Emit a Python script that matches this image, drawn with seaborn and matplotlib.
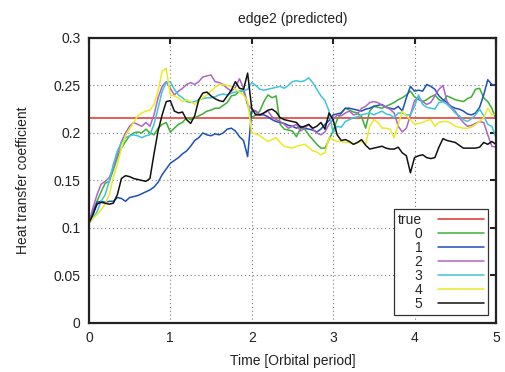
import numpy as np
import pandas as pd
import matplotlib
matplotlib.use("Agg")
import matplotlib.pyplot as plt
from matplotlib.ticker import FuncFormatter, MultipleLocator
import seaborn as sns

# sample times in orbital periods (step 0.05)
time = np.round(np.arange(0, 101) * 0.05, 2)

true_value = 0.216

run0 = [0.105, 0.114, 0.128, 0.138, 0.147, 0.149, 0.161, 0.174, 0.184, 0.191,
        0.197, 0.200, 0.201, 0.200, 0.204, 0.200, 0.198, 0.205, 0.209, 0.211,
        0.201, 0.205, 0.209, 0.211, 0.216, 0.214, 0.216, 0.218, 0.220, 0.223,
        0.224, 0.226, 0.226, 0.229, 0.232, 0.239, 0.240, 0.244, 0.244, 0.230,
        0.216, 0.219, 0.223, 0.233, 0.240, 0.237, 0.239, 0.209, 0.204, 0.203,
        0.202, 0.196, 0.205, 0.204, 0.198, 0.193, 0.188, 0.184, 0.184, 0.193,
        0.202, 0.214, 0.221, 0.226, 0.224, 0.222, 0.221, 0.217, 0.205, 0.223,
        0.228, 0.227, 0.226, 0.228, 0.230, 0.232, 0.235, 0.237, 0.240, 0.244,
        0.238, 0.235, 0.233, 0.235, 0.238, 0.240, 0.235, 0.233, 0.239, 0.237,
        0.235, 0.234, 0.233, 0.236, 0.238, 0.246, 0.247, 0.237, 0.233, 0.226,
        0.215]

run1 = [0.105, 0.118, 0.127, 0.128, 0.127, 0.128, 0.128, 0.132, 0.131, 0.128,
        0.132, 0.133, 0.134, 0.136, 0.138, 0.140, 0.143, 0.148, 0.156, 0.162,
        0.168, 0.171, 0.174, 0.178, 0.181, 0.186, 0.192, 0.195, 0.200, 0.198,
        0.197, 0.199, 0.198, 0.200, 0.204, 0.205, 0.202, 0.196, 0.192, 0.175,
        0.223, 0.223, 0.219, 0.219, 0.217, 0.214, 0.212, 0.211, 0.210, 0.208,
        0.207, 0.205, 0.207, 0.205, 0.204, 0.203, 0.201, 0.204, 0.209, 0.213,
        0.219, 0.220, 0.221, 0.226, 0.226, 0.225, 0.224, 0.223, 0.225, 0.226,
        0.228, 0.229, 0.230, 0.227, 0.226, 0.225, 0.228, 0.223, 0.237, 0.249,
        0.244, 0.245, 0.244, 0.251, 0.249, 0.246, 0.239, 0.235, 0.232, 0.228,
        0.226, 0.225, 0.223, 0.220, 0.219, 0.221, 0.227, 0.240, 0.256, 0.251,
        0.250]

run2 = [0.105, 0.121, 0.135, 0.146, 0.149, 0.153, 0.163, 0.177, 0.191, 0.200,
        0.207, 0.211, 0.209, 0.207, 0.211, 0.207, 0.219, 0.237, 0.249, 0.254,
        0.247, 0.240, 0.244, 0.247, 0.251, 0.253, 0.251, 0.254, 0.259, 0.260,
        0.261, 0.254, 0.253, 0.251, 0.247, 0.244, 0.248, 0.257, 0.247, 0.230,
        0.225, 0.223, 0.219, 0.221, 0.223, 0.217, 0.214, 0.212, 0.209, 0.205,
        0.207, 0.209, 0.202, 0.205, 0.209, 0.204, 0.200, 0.198, 0.201, 0.209,
        0.214, 0.219, 0.218, 0.221, 0.223, 0.219, 0.220, 0.226, 0.228, 0.232,
        0.233, 0.232, 0.229, 0.227, 0.225, 0.221, 0.207, 0.201, 0.205, 0.219,
        0.234, 0.237, 0.233, 0.230, 0.232, 0.239, 0.246, 0.250, 0.233, 0.227,
        0.223, 0.216, 0.211, 0.207, 0.208, 0.210, 0.212, 0.211, 0.198, 0.186,
        0.185]

run3 = [0.105, 0.110, 0.117, 0.128, 0.135, 0.149, 0.167, 0.181, 0.190, 0.195,
        0.197, 0.198, 0.197, 0.195, 0.197, 0.198, 0.209, 0.226, 0.244, 0.253,
        0.254, 0.246, 0.240, 0.237, 0.233, 0.232, 0.233, 0.235, 0.236, 0.237,
        0.237, 0.238, 0.240, 0.241, 0.240, 0.242, 0.243, 0.244, 0.244, 0.246,
        0.253, 0.250, 0.246, 0.245, 0.246, 0.247, 0.248, 0.249, 0.247, 0.250,
        0.254, 0.255, 0.254, 0.255, 0.258, 0.253, 0.246, 0.239, 0.234, 0.223,
        0.200, 0.207, 0.206, 0.212, 0.214, 0.216, 0.217, 0.219, 0.220, 0.221,
        0.219, 0.221, 0.223, 0.220, 0.219, 0.216, 0.221, 0.221, 0.219, 0.219,
        0.228, 0.240, 0.230, 0.227, 0.226, 0.225, 0.232, 0.233, 0.230, 0.226,
        0.221, 0.218, 0.214, 0.212, 0.215, 0.219, 0.225, 0.218, 0.209, 0.207,
        0.195]

run4 = [0.105, 0.110, 0.114, 0.119, 0.125, 0.135, 0.153, 0.167, 0.184, 0.197,
        0.204, 0.211, 0.218, 0.221, 0.223, 0.224, 0.230, 0.244, 0.265, 0.268,
        0.240, 0.239, 0.237, 0.233, 0.235, 0.233, 0.230, 0.234, 0.237, 0.240,
        0.244, 0.248, 0.251, 0.251, 0.250, 0.249, 0.246, 0.243, 0.240, 0.233,
        0.200, 0.199, 0.197, 0.194, 0.191, 0.193, 0.195, 0.190, 0.186, 0.185,
        0.184, 0.186, 0.187, 0.188, 0.185, 0.181, 0.180, 0.177, 0.179, 0.195,
        0.193, 0.191, 0.191, 0.190, 0.190, 0.188, 0.190, 0.191, 0.188, 0.207,
        0.214, 0.211, 0.205, 0.205, 0.204, 0.195, 0.209, 0.223, 0.218, 0.214,
        0.209, 0.210, 0.211, 0.213, 0.214, 0.207, 0.211, 0.212, 0.212, 0.210,
        0.207, 0.206, 0.205, 0.205, 0.206, 0.209, 0.212, 0.216, 0.226, 0.219,
        0.220]

run5 = [0.105, 0.114, 0.125, 0.127, 0.126, 0.125, 0.126, 0.135, 0.152, 0.155,
        0.154, 0.152, 0.151, 0.150, 0.149, 0.152, 0.178, 0.202, 0.219, 0.233,
        0.234, 0.223, 0.221, 0.222, 0.214, 0.210, 0.218, 0.235, 0.242, 0.243,
        0.239, 0.236, 0.234, 0.233, 0.239, 0.245, 0.254, 0.247, 0.246, 0.263,
        0.226, 0.219, 0.219, 0.221, 0.224, 0.225, 0.222, 0.216, 0.214, 0.213,
        0.212, 0.211, 0.206, 0.207, 0.209, 0.205, 0.207, 0.211, 0.204, 0.221,
        0.214, 0.198, 0.192, 0.193, 0.191, 0.188, 0.190, 0.193, 0.187, 0.183,
        0.184, 0.185, 0.186, 0.184, 0.183, 0.183, 0.185, 0.179, 0.176, 0.158,
        0.174, 0.176, 0.177, 0.174, 0.173, 0.174, 0.185, 0.194, 0.192, 0.191,
        0.190, 0.187, 0.184, 0.184, 0.184, 0.184, 0.185, 0.190, 0.188, 0.191,
        0.188]

run_names = ["true", "0", "1", "2", "3", "4", "5"]
run_colors = ["#e0302c", "#3cb034", "#1d50b8", "#b064c4", "#40c4dc", "#ecea26", "#111111"]

values = [[true_value] * len(time), run0, run1, run2, run3, run4, run5]
df = pd.DataFrame({
    "time": np.tile(time, len(run_names)),
    "value": np.concatenate([np.asarray(v, dtype=float) for v in values]),
    "run": np.repeat(run_names, len(time)),
})

sns.set_theme(style="white")
plt.rcParams["font.family"] = ["Liberation Sans", "DejaVu Sans"]

fig = plt.figure(figsize=(5.05, 3.72), dpi=100)
ax = fig.add_axes([0.176, 0.132, 0.806, 0.766])

sns.lineplot(data=df, x="time", y="value", hue="run", hue_order=run_names,
             palette=run_colors, linewidth=1.1, estimator=None, sort=False,
             legend=False, ax=ax)

ax.set_xlim(0, 5)
ax.set_ylim(0, 0.3)
ax.xaxis.set_major_locator(MultipleLocator(1))
ax.yaxis.set_major_locator(MultipleLocator(0.05))
ax.yaxis.set_major_formatter(FuncFormatter(lambda v, p: f"{v:g}"))
ax.xaxis.set_major_formatter(FuncFormatter(lambda v, p: f"{v:g}"))

ax.set_axisbelow(True)
ax.grid(True, linestyle=(0, (1, 2.5)), color="#7a7a7a", linewidth=0.8)
for s in ax.spines.values():
    s.set_linewidth(1.6)
    s.set_color("#222222")
ax.tick_params(direction="in", length=4.5, width=1.5, top=True, right=True,
               labelsize=10, pad=6, colors="#222222", labelcolor="#222222")

ax.set_title("edge2 (predicted)", fontsize=10, pad=11, color="#222222")
ax.set_xlabel("Time [Orbital period]", fontsize=10, labelpad=6, color="#222222")
ax.set_ylabel("Heat transfer coefficient", fontsize=10, labelpad=17, color="#222222")

leg = ax.legend(handles=ax.lines[:len(run_names)], labels=run_names,
                loc="lower right", markerfirst=False, fontsize=10,
                frameon=True, fancybox=False, framealpha=1, edgecolor="#333333",
                labelspacing=0.0, borderpad=0.3, handlelength=3.3,
                handletextpad=1.15, borderaxespad=0.55)
leg.get_frame().set_linewidth(0.9)

# right-align legend texts next to their line samples
for t in leg.get_texts():
    t.set_ha("right")

fig.savefig("out.png", dpi=100)
